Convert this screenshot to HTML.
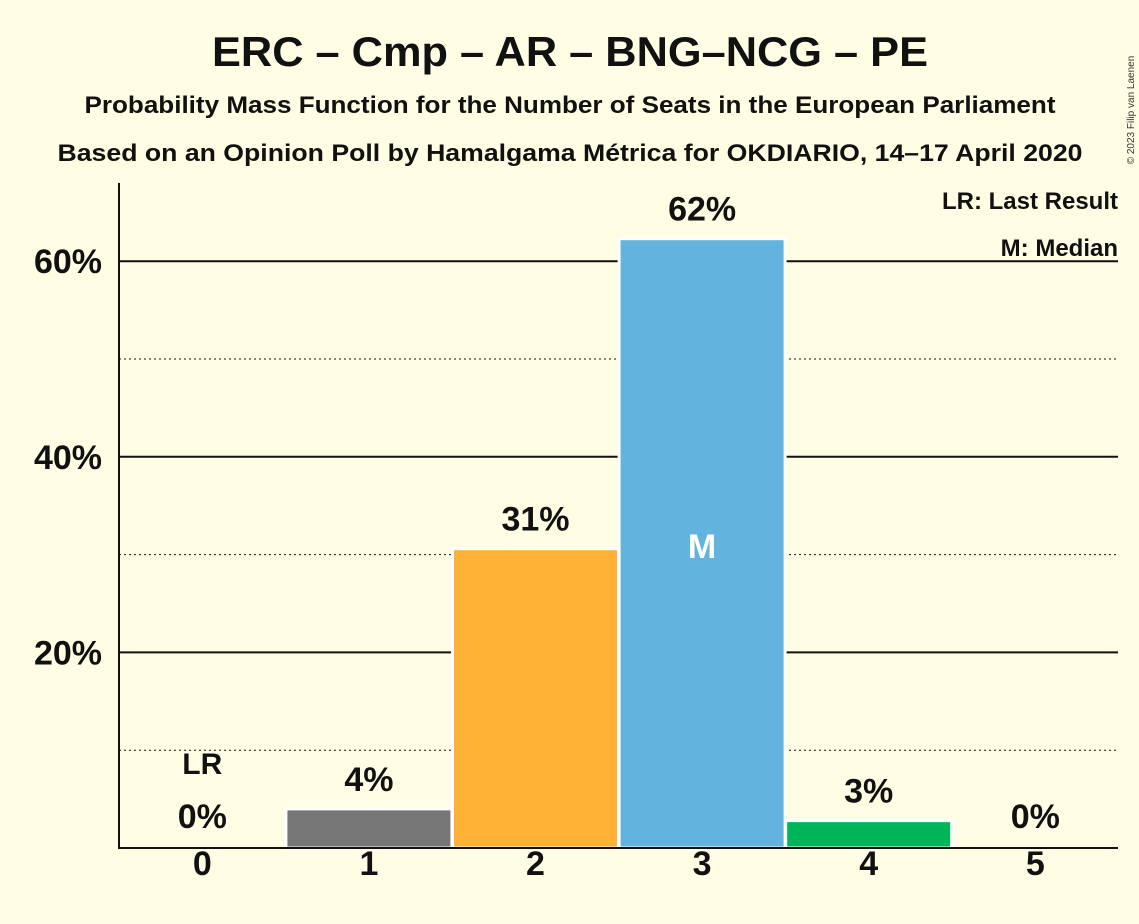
<!DOCTYPE html>
<html><head><meta charset="utf-8"><style>
body{margin:0;background:#FFFDE3;}
svg{display:block;font-family:"Liberation Sans",sans-serif;}
</style></head><body>
<svg id="chart" width="1139" height="924" viewBox="0 0 1139 924">
<rect width="1139" height="924" fill="#FFFDE3"/>
<text x="570" y="66" text-anchor="middle" font-size="42" font-weight="bold" fill="#111" textLength="716" lengthAdjust="spacingAndGlyphs">ERC – Cmp – AR – BNG–NCG – PE</text>
<text x="570" y="113" text-anchor="middle" font-size="24" font-weight="bold" fill="#111" textLength="971" lengthAdjust="spacingAndGlyphs">Probability Mass Function for the Number of Seats in the European Parliament</text>
<text x="570" y="161" text-anchor="middle" font-size="24" font-weight="bold" fill="#111" textLength="1025" lengthAdjust="spacingAndGlyphs">Based on an Opinion Poll by Hamalgama Métrica for OKDIARIO, 14–17 April 2020</text>
<text x="1134" y="110" transform="rotate(-90 1134 110)" text-anchor="middle" font-size="10" fill="#333">© 2023 Filip van Laenen</text>
<g id="grid"></g>
<g id="bars"></g>
<g id="labels"></g>
<line x1="119" y1="183" x2="119" y2="849" stroke="#111" stroke-width="2"/>
<line x1="118" y1="848" x2="1118" y2="848" stroke="#111" stroke-width="2"/>
<text x="1118" y="209" text-anchor="end" font-size="24" font-weight="bold" fill="#111">LR: Last Result</text>
<text x="1118" y="256" text-anchor="end" font-size="24" font-weight="bold" fill="#111">M: Median</text>
</svg>
<script>
const seats = [0, 1, 2, 3, 4, 5];
const probs = [0, 4.0, 30.6, 62.3, 2.8, 0];
const valueLabels = ["0%", "4%", "31%", "62%", "3%", "0%"];
const colors = ["#777777", "#777777", "#FFB135", "#62B4DF", "#00B559", "#777777"];
const yTicks = [20, 40, 60];
const yMinor = [10, 30, 50];
const lastResult = 0;
const median = 3;

const NS = "http://www.w3.org/2000/svg";
const x0 = 119, step = 166.6, baseY = 848, pxPer = 9.78;
const xC = i => x0 + step * (i + 0.5);
const yS = v => baseY - v * pxPer;
function mk(tag, attrs, parent, txt) {
  const e = document.createElementNS(NS, tag);
  for (const k in attrs) e.setAttribute(k, attrs[k]);
  if (txt !== undefined) e.textContent = txt;
  parent.appendChild(e);
  return e;
}
const grid = document.getElementById("grid"), bars = document.getElementById("bars"), labels = document.getElementById("labels");
yMinor.forEach(v => {
  const l = mk("line", {x1: 119, x2: 1118, y1: yS(v), y2: yS(v), stroke: "#111", "stroke-width": 1, "stroke-dasharray": "2,3"}, grid);
  
  
});
yTicks.forEach(v => {
  const l = mk("line", {x1: 119, x2: 1118, y1: yS(v), y2: yS(v), stroke: "#111", "stroke-width": 2}, grid);
  
  
  const t = mk("text", {x: 102, y: yS(v) + 12, "text-anchor": "end", "font-size": 34, "font-weight": "bold", fill: "#111"}, labels, v + "%");
  
  
});
seats.forEach((s, i) => {
  const p = probs[i];
  if (p > 0) {
    const r = mk("rect", {x: xC(i) - 83, y: yS(p), width: 166, height: baseY - yS(p), fill: colors[i], stroke: "#fff", "stroke-width": 3}, bars);
    
    
  }
  const vt = mk("text", {x: xC(i), y: yS(p) - 18, "text-anchor": "middle", "font-size": 34, "font-weight": "bold", fill: "#111"}, labels, valueLabels[i]);
  if (p === 0) vt.setAttribute("y", baseY - 20);
  
  
  const xt = mk("text", {x: xC(i), y: 875, "text-anchor": "middle", "font-size": 34, "font-weight": "bold", fill: "#111"}, labels, String(s));
  
  
  if (s === lastResult) {
    const lr = mk("text", {x: xC(i), y: (p === 0 ? baseY - 20 : yS(p) - 18) - 54, "text-anchor": "middle", "font-size": 30, "font-weight": "bold", fill: "#111"}, labels, "LR");
    
    
  }
  if (s === median) {
    const m = mk("text", {x: xC(i), y: 558, "text-anchor": "middle", "font-size": 34, "font-weight": "bold", fill: "#fff"}, labels, "M");
    
    
  }
});
</script>
</body></html>
